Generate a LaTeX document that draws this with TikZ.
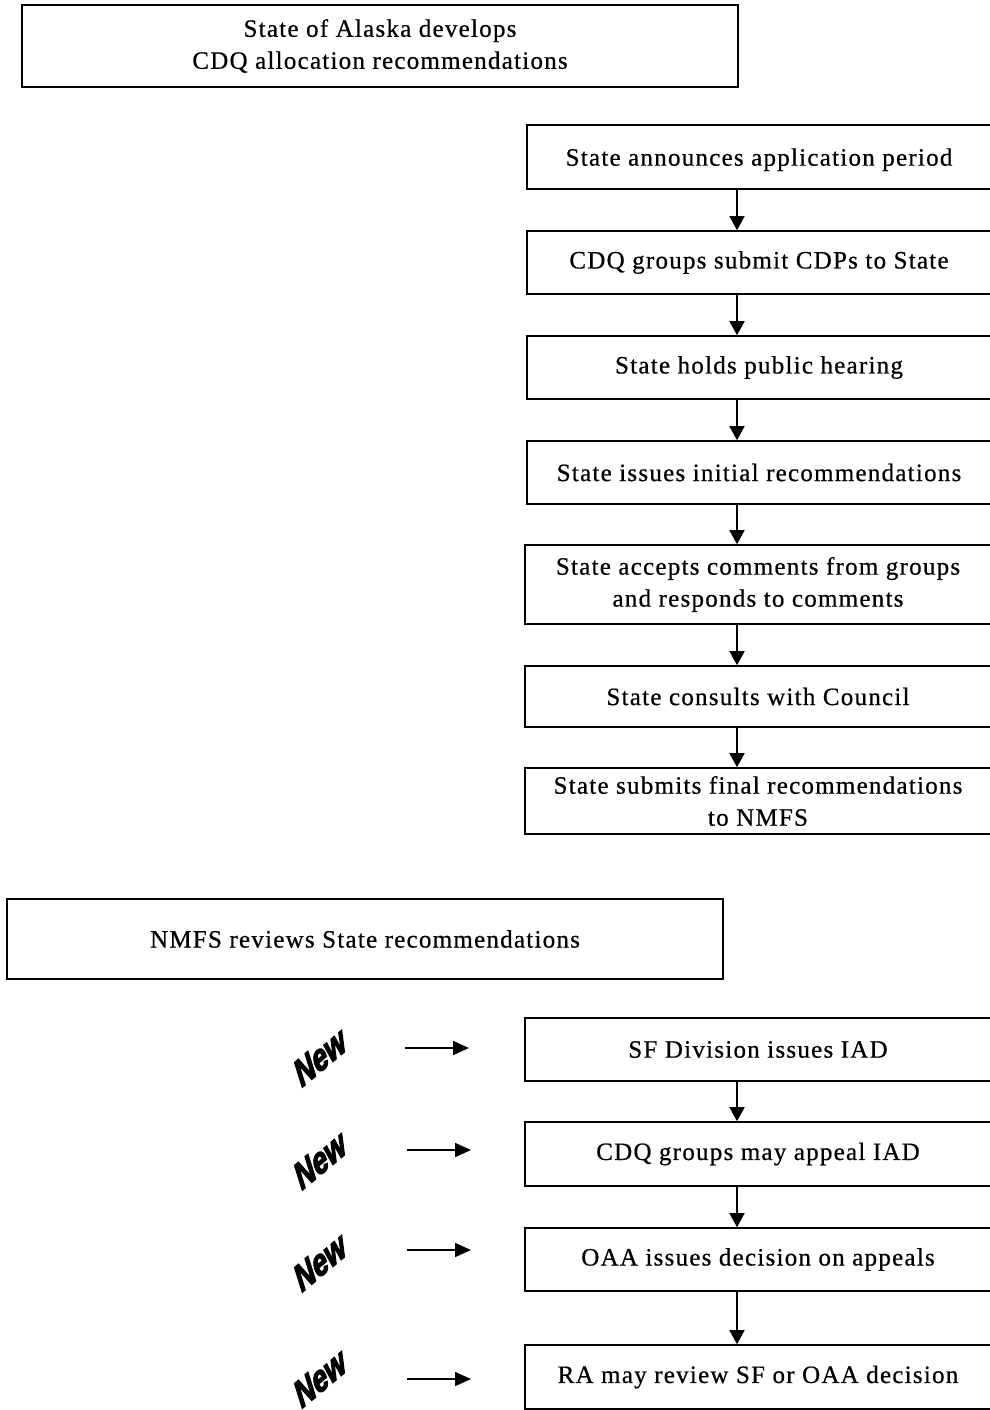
\documentclass[tikz,border=0pt]{standalone}
\usepackage{fontspec}
\setmainfont{Liberation Serif}[LetterSpace=5,FakeBold=0.6]
\newfontfamily\newlblfont{Liberation Sans}[FakeBold=3.5,FakeStretch=0.85]
\usetikzlibrary{arrows.meta}
\begin{document}
\begin{tikzpicture}[x=1pt,y=-1pt,
  box/.style={draw,line width=1.6pt,inner sep=0pt,align=center,font=\fontsize{25}{32}\selectfont},
  flow/.style={line width=1.6pt,-{Triangle[width=15pt,length=14pt]}},
  newarrow/.style={line width=1.6pt,-{Triangle[width=14pt,length=16pt]}},
  newlabel/.style={font=\newlblfont\bfseries\itshape\fontsize{35}{35}\selectfont,rotate=40,xslant=0.25,inner sep=0pt}]
\useasboundingbox (0,0) rectangle (989,1410);
% top box
\node[box,minimum width=716pt,minimum height=82pt] (top) at (380,46) {State of Alaska develops\\CDQ allocation recommendations};
% right column
\node[box,minimum width=464pt,minimum height=64pt,text depth=0pt] (s1) at (759,157) {State announces application period};
\node[box,minimum width=464pt,minimum height=63pt] (s2) at (759,262.5) {CDQ groups submit CDPs to State};
\node[box,minimum width=464pt,minimum height=63pt] (s3) at (759,367.5) {State holds public hearing};
\node[box,minimum width=464pt,minimum height=63pt] (s4) at (759,472.5) {State issues initial recommendations};
\node[box,minimum width=466pt,minimum height=79pt] (s5) at (758,584.5) {State accepts comments from groups\\and responds to comments};
\node[box,minimum width=466pt,minimum height=61pt] (s6) at (758,696.5) {State consults with Council};
\node[box,minimum width=466pt,minimum height=66pt] (s7) at (758,801) {State submits final recommendations\\to NMFS};
\draw[flow] (s1.south -| 737,0) -- (s2.north -| 737,0);
\draw[flow] (s2.south -| 737,0) -- (s3.north -| 737,0);
\draw[flow] (s3.south -| 737,0) -- (s4.north -| 737,0);
\draw[flow] (s4.south -| 737,0) -- (s5.north -| 737,0);
\draw[flow] (s5.south -| 737,0) -- (s6.north -| 737,0);
\draw[flow] (s6.south -| 737,0) -- (s7.north -| 737,0);
% NMFS box
\node[box,minimum width=716pt,minimum height=80pt] (nmfs) at (365,939) {NMFS reviews State recommendations};
% lower column
\node[box,minimum width=466pt,minimum height=63pt] (r1) at (758,1049.5) {SF Division issues IAD};
\node[box,minimum width=466pt,minimum height=64pt] (r2) at (758,1154) {CDQ groups may appeal IAD};
\node[box,minimum width=466pt,minimum height=63pt] (r3) at (758,1259.5) {OAA issues decision on appeals};
\node[box,minimum width=466pt,minimum height=64pt] (r4) at (758,1377) {RA may review SF or OAA decision};
\draw[flow] (r1.south -| 737,0) -- (r2.north -| 737,0);
\draw[flow] (r2.south -| 737,0) -- (r3.north -| 737,0);
\draw[flow] (r3.south -| 737,0) -- (r4.north -| 737,0);
% New labels
\node[newlabel] (n1) at (320,1057) {New};
\node[newlabel] (n2) at (320,1160) {New};
\node[newlabel] (n3) at (320,1262) {New};
\node[newlabel] (n4) at (320,1378) {New};
\coordinate (a1s) at (405,1048); \coordinate (a1e) at (469,1048);
\coordinate (a2s) at (407,1150); \coordinate (a2e) at (471,1150);
\coordinate (a3s) at (407,1250); \coordinate (a3e) at (471,1250);
\coordinate (a4s) at (407,1379); \coordinate (a4e) at (471,1379);
\draw[newarrow] (a1s) -- (a1e);
\draw[newarrow] (a2s) -- (a2e);
\draw[newarrow] (a3s) -- (a3e);
\draw[newarrow] (a4s) -- (a4e);
\end{tikzpicture}
\end{document}
